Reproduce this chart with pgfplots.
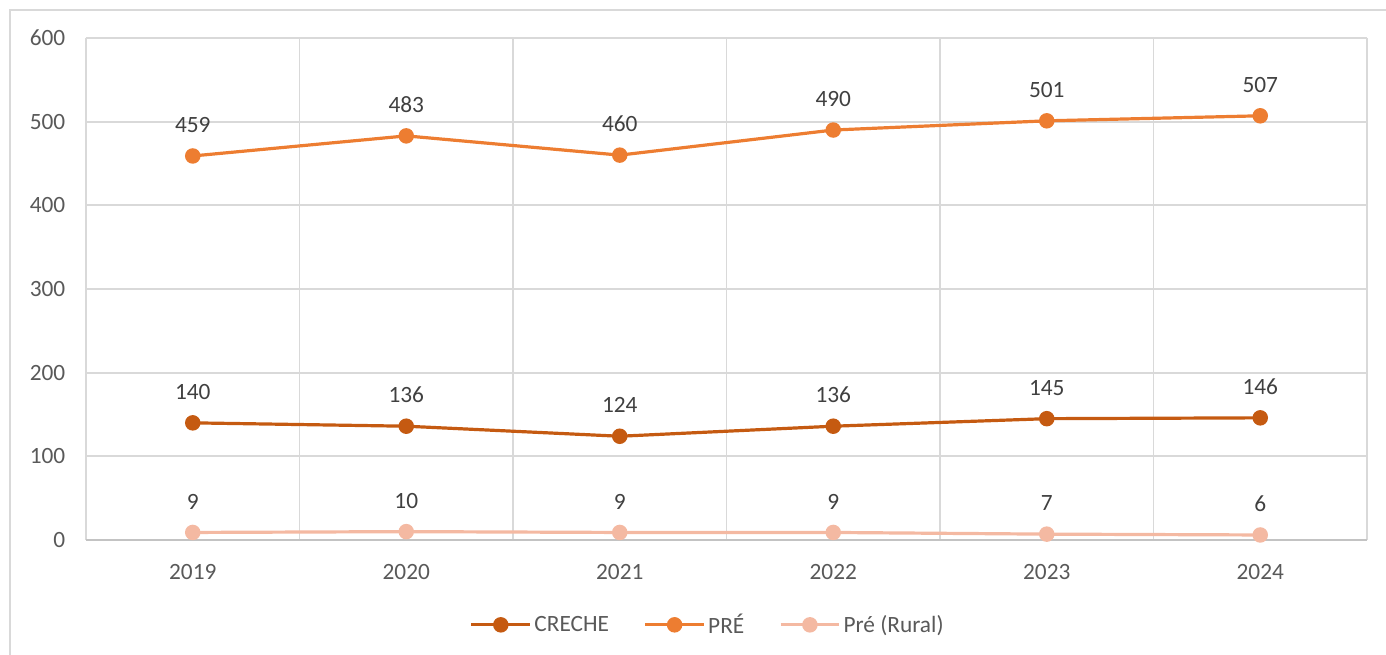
\documentclass[border=0pt]{standalone}
\usepackage{fontspec}
\setmainfont{Carlito}
\usepackage{pgfplots}
\pgfplotsset{compat=1.18}
\definecolor{creche}{HTML}{C55A11}
\definecolor{pre}{HTML}{ED7D31}
\definecolor{rural}{HTML}{F4B9A2}
\definecolor{gridc}{HTML}{D9D9D9}
\definecolor{txt}{HTML}{595959}
\definecolor{lbl}{HTML}{404040}
\begin{document}
\begin{tikzpicture}
\path[use as bounding box] (0pt,0pt) rectangle (1039.5pt,491.25pt);
\draw[gridc, line width=1pt] (7.5pt,0pt) -- (7.5pt,483.75pt) -- (1039.5pt,483.75pt);
\begin{axis}[
    at={(64.5pt,86.25pt)}, anchor=south west,
    scale only axis, width=960.75pt, height=376.5pt,
    xmin=-0.5, xmax=5.5, ymin=0, ymax=600,
    xtick={0,...,5}, xticklabels={2019,2020,2021,2022,2023,2024},
    minor xtick={-0.5,0.5,...,5.5},
    ytick={0,100,...,600},
    major tick length=0pt, minor tick length=0pt,
    xmajorgrids=false, xminorgrids=true, ymajorgrids=true,
    grid style={gridc, line width=1.3pt},
    minor grid style={gridc, line width=1.3pt},
    axis line style={draw=none},
    tick label style={font=\fontsize{17.5}{19}\selectfont, text=txt},
    /pgf/number format/assume math mode=true,
    yticklabel style={xshift=-12pt},
    xticklabel style={yshift=-15pt},
    every axis plot/.append style={line width=2.4pt, mark=*, mark size=4.6pt},
    nodes near coords,
    nodes near coords style={font=\fontsize{17.5}{19}\selectfont, text=lbl, anchor=south, yshift=13pt},
    legend style={at={(0.4856,-0.169)}, anchor=center, draw=none, fill=none,
        legend columns=3, font=\fontsize{17.5}{19}\selectfont, text=txt,
        /tikz/every even column/.append style={column sep=24pt}},
    legend cell align=left,
    legend image code/.code={
        \draw[#1, mark=none] (0pt,0pt) -- (44pt,0pt);
        \fill[#1] (22pt,0pt) circle (4.6pt);
    },
    clip=false,
]
\draw[gridc!75!gray, line width=1.3pt] (axis cs:-0.5,0) -- (axis cs:5.5,0);
\addplot[creche, mark options={fill=creche}] coordinates {(0,140) (1,136) (2,124) (3,136) (4,145) (5,146)};
\addlegendentry{CRECHE}
\addplot[pre, mark options={fill=pre}] coordinates {(0,459) (1,483) (2,460) (3,490) (4,501) (5,507)};
\addlegendentry{PRÉ}
\addplot[rural, mark options={fill=rural}] coordinates {(0,9) (1,10) (2,9) (3,9) (4,7) (5,6)};
\addlegendentry{Pré (Rural)}
\end{axis}
\end{tikzpicture}
\end{document}
